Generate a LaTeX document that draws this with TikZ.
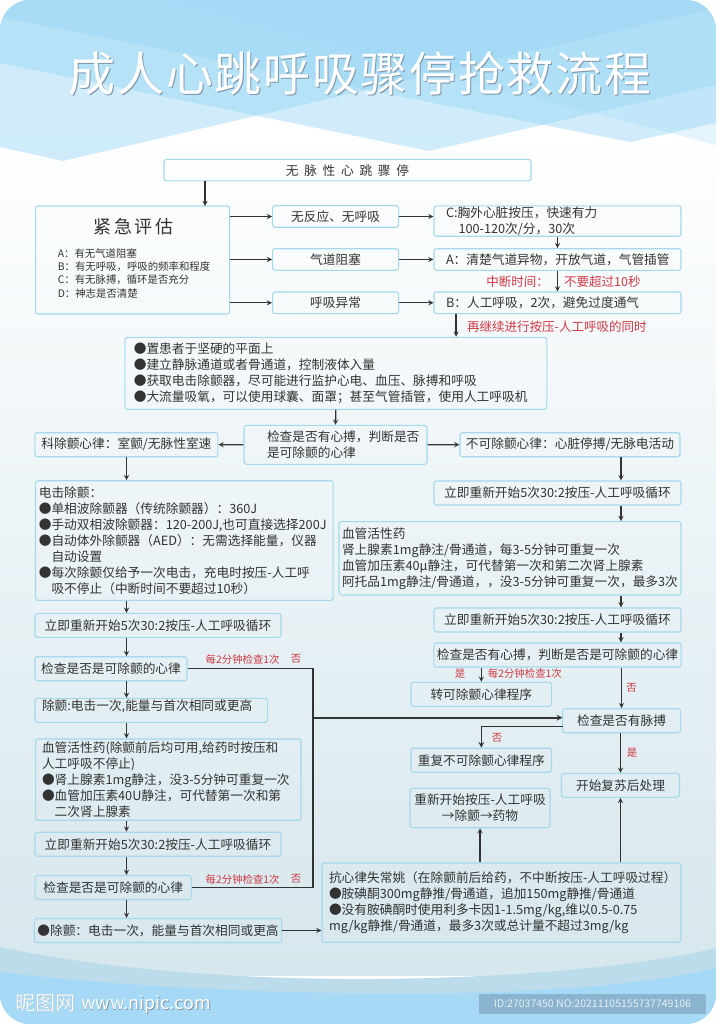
\documentclass[tikz,border=0pt]{standalone}
\usepackage{xcolor}
\usepackage{fontspec}
\usepackage{tikz}
\setmainfont{Noto Sans CJK SC}
\newfontfamily\titlefont[LetterSpace=3.6]{Noto Sans CJK SC}
\newfontfamily\headfont[LetterSpace=15]{Noto Sans CJK SC}
\newfontfamily\widefont[LetterSpace=45]{Noto Sans CJK SC}
\definecolor{sky1} {RGB} {151, 213, 244}
\definecolor{sky2} {RGB} {166, 217, 245}
\definecolor{sky3} {RGB} {188, 220, 236}
\definecolor{mist1} {RGB} {214, 231, 237}
\definecolor{edge1} {RGB} {165, 216, 236}
\definecolor{ink1} {RGB} {51, 51, 51}
\definecolor{red1} {RGB} {207, 58, 68}
\definecolor{stamp1} {RGB} {139, 180, 207}
\definecolor{stamp2} {RGB} {230, 238, 242}
\definecolor{shade1} {RGB} {125, 150, 168}
\tikzstyle{stepbox}=[
  draw=edge1, line width=1.1pt, rounded corners=2.5pt, text=ink1, inner ysep=0pt, inner xsep=3pt,
  minimum height=24pt, font=\fontsize{12.7}{16}\selectfont, align=center
]
\tikzstyle{listbox}=[stepbox, align=left]
\tikzstyle{flow}=[-stealth, ink1, line width=1.3pt]
\tikzstyle{busline}=[ink1, line width=1.4pt]
\tikzstyle{redbig}=[text=red1, inner sep=0pt, font=\fontsize{12.5}{15}\selectfont]
\tikzstyle{redsmall}=[text=red1, inner sep=0pt, font=\fontsize{10.4}{13}\selectfont]
\begin{document}
\begin{tikzpicture}[x=1pt,y=-1pt]
      \useasboundingbox (0,0) rectangle (716,1024);
      \begin{scope}
        \clip[rounded corners=30pt] (0,0) rectangle (716,1024);
        \shade[top color=white, bottom color=mist1] (0,130) rectangle (716,975);
        \fill[sky1,fill opacity=0.45] (0,0) -- (716,0) -- (716,85) -- (429,151) -- (0,63) -- cycle;
        \fill[sky1,fill opacity=0.45] (0,0) -- (716,0) -- (716,8) -- (63,161) -- (0,147) -- cycle;
        \fill[sky1,fill opacity=0.45] (0,0) -- (716,0) -- (716,123) -- (630,142) -- (0,17) -- cycle;
        \fill[sky1,fill opacity=0.25] (158,0) -- (716,0) -- (716,145) -- cycle;
        \fill[sky3] (0,947) .. controls (130,975) and (300,982) .. (430,978)
          .. controls (560,974) and (660,962) .. (716,948) -- (716,1024) -- (0,1024) -- cycle;
        \fill[sky2] (0,972) .. controls (150,990) and (320,995) .. (456,993)
          .. controls (570,991) and (660,982) .. (716,968) -- (716,1024) -- (0,1024) -- cycle;
      \end{scope}

      \node[text=shade1, font=\titlefont\fontsize{47}{50}\selectfont] (titleshade) at (361,74.7) {成人心跳呼吸骤停抢救流程};
      \node[text=white, font=\titlefont\fontsize{47}{50}\selectfont] (title) at (360,73.5) {成人心跳呼吸骤停抢救流程};

      \coordinate (assessin) at (205,206);
      \coordinate (rline) at (621,0);
      \coordinate (lline) at (126.5,0);
      \coordinate (busx) at (313,0);
      \coordinate (goonx) at (456,0);

      \node[stepbox, minimum width=367pt, minimum height=21.5pt, font=\widefont\fontsize{12.7}{16}\selectfont] (arrest) at (347.5,170.2) {无脉性心跳骤停};

      \node[stepbox, minimum width=194pt, minimum height=108pt] (assess) at (132.6,260) {};
      \node[text=ink1, font=\headfont\fontsize{18}{20}\selectfont] (assesshead) at (133.5,226.7) {紧急评估};
      \node[text=ink1, inner sep=0pt, align=left, font=\fontsize{10.4}{13.35}\selectfont] (assesslist) at (134,273.3) {A：有无气道阻塞\\B：有无呼吸，呼吸的频率和程度\\C：有无脉搏，循环是否充分\\D：神志是否清楚};

      \node[stepbox, minimum width=126pt, minimum height=21.6pt] (noresp) at (335.6,216.5) {无反应、无呼吸};
      \node[stepbox, minimum width=126pt, minimum height=21.6pt] (airway) at (335.6,259.5) {气道阻塞};
      \node[stepbox, minimum width=126pt, minimum height=21.6pt] (breath) at (335.6,302.8) {呼吸异常};

      \node[listbox, inner xsep=12pt, text width=223pt, minimum height=30.3pt] (actc) at (557.5,221.1) {C:胸外心脏按压，快速有力\\\hspace*{12.5pt}100-120次/分，30次};
      \node[listbox, inner xsep=12pt, text width=223pt, minimum height=21.6pt] (acta) at (557.5,259.5) {A：清楚气道异物，开放气道，气管插管};
      \node[listbox, inner xsep=12pt, text width=223pt, minimum height=21.6pt] (actb) at (557.5,302.8) {B：人工呼吸，2次，避免过度通气};

      \node[redbig, anchor=east] (pausea) at (549,281.7) {中断时间：};
      \node[redbig, anchor=west] (pauseb) at (564,281.7) {不要超过10秒};
      \node[redbig, anchor=west] (goon) at (467,326.7) {再继续进行按压-人工呼吸的同时};

      \node[listbox, inner xsep=9pt, text width=404pt, minimum height=72pt] (prep) at (335.8,373.3) {●置患者于坚硬的平面上\\●建立静脉通道或者骨通道，控制液体入量\\●获取电击除颤器，尽可能进行监护心电、血压、脉搏和呼吸\\●大流量吸氧，可以使用球囊、面罩；甚至气管插管，使用人工呼吸机};

      \node[listbox, inner xsep=23pt, text width=137pt, minimum height=39pt] (check) at (335.5,444.8) {检查是否有心搏，判断是否\\是可除颤的心律};
      \node[stepbox, minimum width=183pt] (shockable) at (126.4,444.7) {科除颤心律：室颤/无脉性室速};
      \node[stepbox, minimum width=220pt] (nonshock) at (570,444.7) {不可除颤心律：心脏停搏/无脉电活动};

      \node[listbox, inner xsep=3.3pt, text width=291pt, minimum height=119.6pt] (shocks) at (184.3,540.5) {电击除颤：\\●单相波除颤器（传统除颤器）：360J\\●手动双相波除颤器：120-200J,也可直接选择200J\\●自动体外除颤器（AED）：无需选择能量，仪器\\\hspace*{1em}自动设置\\●每次除颤仅给予一次电击，充电时按压-人工呼\\\hspace*{1em}吸不停止（中断时间不要超过10秒）};

      \node[stepbox, minimum width=247pt] (restartra) at (557.5,493) {立即重新开始5次30:2按压-人工呼吸循环};
      \node[listbox, inner xsep=3pt, text width=336pt, minimum height=73.3pt] (drugsr) at (510,558.3) {血管活性药\\肾上腺素1mg静注/骨通道，每3-5分钟可重复一次\\血管加压素40μ静注，可代替第一次和第二次肾上腺素\\阿托品1mg静注/骨通道，，没3-5分钟可重复一次，最多3次};
      \node[stepbox, minimum width=247pt] (restartrb) at (557.5,620) {立即重新开始5次30:2按压-人工呼吸循环};
      \node[stepbox, minimum width=247pt] (checkr) at (557.5,655) {检查是否有心搏，判断是否是可除颤的心律};

      \node[redsmall] (yesr) at (460,674) {是};
      \node[redsmall, anchor=west] (everyr) at (487.7,674) {每2分钟检查1次};
      \node[redsmall] (nor) at (631.5,687.7) {否};

      \node[stepbox, minimum width=140.6pt] (toshock) at (481.3,694.3) {转可除颤心律程序};
      \node[stepbox, minimum width=118pt] (pulse) at (621.5,720.7) {检查是否有脉搏};
      \node[redsmall] (nopulse) at (497,737.7) {否};
      \node[redsmall] (yespulse) at (632,753) {是};
      \node[stepbox, minimum width=140.6pt] (again) at (481.3,760.2) {重复不可除颤心律程序};
      \node[stepbox, minimum width=118pt] (post) at (620.5,785.3) {开始复苏后处理};
      \node[stepbox, minimum width=140pt, minimum height=39.4pt] (restartc) at (480,808) {重新开始按压-人工呼吸\\→除颤→药物};

      \node[stepbox, minimum width=246pt] (restartl) at (158,625.3) {立即重新开始5次30:2按压-人工呼吸循环};
      \node[stepbox, minimum width=152pt] (checkla) at (111,668.7) {检查是否是可除颤的心律};
      \node[redsmall, anchor=west] (everyla) at (205.5,659.3) {每2分钟检查1次};
      \node[redsmall] (nola) at (296,659.3) {否};
      \node[listbox, inner xsep=7pt, text width=218.6pt, minimum height=24pt, text height=12.5pt, text depth=11.5pt] (shockla) at (151.3,710.3) {除颤:电击一次,能量与首次相同或更高};

      \node[listbox, inner xsep=6.4pt, text width=252.6pt, minimum height=81.3pt] (vaso) at (168.3,779.6) {血管活性药(除颤前后均可用,给药时按压和\\人工呼吸不停止)\\●肾上腺素1mg静注，没3-5分钟可重复一次\\●血管加压素40U静注，可代替第一次和第\\\hspace*{1em}二次肾上腺素};

      \node[stepbox, minimum width=246pt] (restartlb) at (158,844.2) {立即重新开始5次30:2按压-人工呼吸循环};
      \node[stepbox, minimum width=156.3pt] (checklb) at (113.2,887.5) {检查是否是可除颤的心律};
      \node[redsmall, anchor=west] (everylb) at (205.5,879.3) {每2分钟检查1次};
      \node[redsmall] (nolb) at (296,879.3) {否};
      \node[stepbox, minimum width=246pt] (shocklb) at (158,930.5) {●除颤：电击一次，能量与首次相同或更高};
      \node[listbox, inner xsep=3pt, text width=353pt, minimum height=79.3pt] (antiarr) at (501.5,902.6) {\hspace*{4pt}抗心律失常姚（在除颤前后给药，不中断按压-人工呼吸过程）\\\hspace*{4pt}●胺碘酮300mg静推/骨通道，追加150mg静推/骨通道\\\hspace*{4pt}●没有胺碘酮时使用利多卡因1-1.5mg/kg,维以0.5-0.75\\\hspace*{4pt}mg/kg静推/骨通道，最多3次或总计量不超过3mg/kg};

      \draw[flow] (arrest.south -| assessin) -- (assessin);
      \draw[flow] (assess.east |- noresp.west) -- (noresp.west);
      \draw[flow] (assess.east |- airway.west) -- (airway.west);
      \draw[flow] (assess.east |- breath.west) -- (breath.west);
      \draw[flow] (noresp.east) -- (noresp.east -| actc.west);
      \draw[flow] (airway.east) -- (acta.west);
      \draw[flow] (breath.east) -- (actb.west);
      \draw[flow] (actc.south) -- (acta.north);
      \draw[flow] (acta.south) -- (actb.north);
      \draw[flow] (actb.south -| goonx) -- (prep.north -| goonx);
      \draw[flow] (prep.south) -- (check.north);
      \draw[flow] (check.west) -- (shockable.east);
      \draw[flow] (check.east) -- (nonshock.west);
      \draw[flow] (shockable.south -| lline) -- (shocks.north -| lline);
      \draw[flow] (nonshock.south -| rline) -- (restartra.north -| rline);
      \draw[flow] (restartra.south -| rline) -- (drugsr.north -| rline);
      \draw[flow] (drugsr.south -| rline) -- (restartrb.north -| rline);
      \draw[flow] (restartrb.south -| rline) -- (checkr.north -| rline);
      \draw[flow] (checkr.south -| toshock.north) -- (toshock.north);
      \draw[flow] (checkr.south -| pulse.north) -- (pulse.north);
      \coordinate (pulsein) at (562.5,717.7);
      \coordinate (pulseout) at (562.5,726.7);
      \draw[flow, line width=1.6pt] (pulsein -| busx) -- (pulsein);
      \draw[flow, line width=1.5pt] (pulseout) -| (again.north);
      \draw[flow] (pulse.south -| post.north) -- (post.north);
      \draw[flow] (antiarr.north -| post.south) -- (post.south);
      \draw[flow] (antiarr.north -| restartc.south) -- (restartc.south);
      \draw[flow] (shocks.south -| lline) -- (restartl.north -| lline);
      \draw[flow] (restartl.south -| lline) -- (checkla.north -| lline);
      \draw[flow] (checkla.south -| lline) -- (shockla.north -| lline);
      \draw[flow] (shockla.south -| lline) -- (vaso.north -| lline);
      \draw[flow] (vaso.south -| lline) -- (restartlb.north -| lline);
      \draw[flow] (restartlb.south -| lline) -- (checklb.north -| lline);
      \draw[flow] (checklb.south -| lline) -- (shocklb.north -| lline);
      \draw[flow] (shocklb.east) -- (shocklb.east -| antiarr.west);
      \draw[busline] (checkla.east) -- (checkla.east -| busx) -- (checklb.east -| busx) -- (checklb.east);

      \node[text=shade1, anchor=west, inner sep=0pt, font=\fontsize{20}{22}\selectfont] (wmarkshade) at (15.7,1003.7) {昵图网};
      \node[text=white, anchor=west, inner sep=0pt, font=\fontsize{20}{22}\selectfont] (wmark) at (15,1003) {昵图网};
      \node[text=shade1, anchor=west, inner sep=0pt, font=\fontsize{18}{20}\selectfont] (wsiteshade) at (81.7,1005.7) {www.nipic.com};
      \node[text=white, anchor=west, inner sep=0pt, font=\fontsize{18}{20}\selectfont] (wsite) at (81,1005) {www.nipic.com};
      \node[fill=stamp1, text=stamp2, minimum width=227pt, minimum height=20pt, inner sep=0pt, font=\fontsize{10.5}{12}\selectfont] (stamp) at (592.5,1004) {ID:27037450 NO:20211105155737749106};
    \end{tikzpicture}
\end{document}
